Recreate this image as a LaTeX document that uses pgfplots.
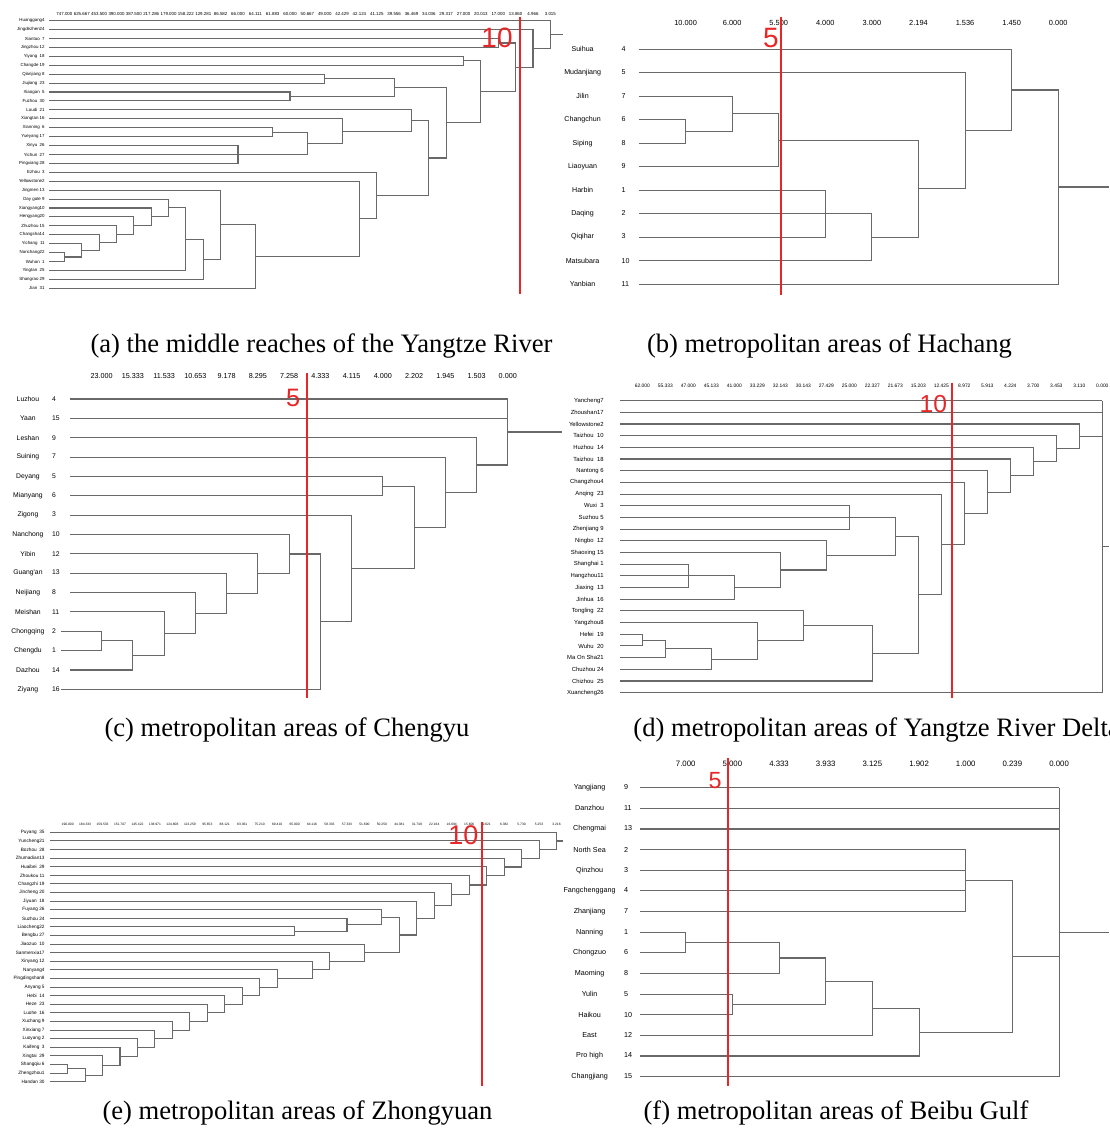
\documentclass[border=0pt]{standalone}
\usepackage{fontspec}
\setmainfont{Liberation Serif}
\newfontfamily\lsans{Liberation Sans}
\usepackage{pgfplots}
\pgfplotsset{compat=1.18}
\definecolor{dg}{RGB}{105,105,105}
\definecolor{rl}{RGB}{232,38,40}
\newcommand\fs[1]{\fontsize{#1}{#1}\selectfont}
\newcommand{\U}[5]{\addplot[dl] coordinates {(#1,#2) (#3,#2) (#3,#4) (#5,#4)};}
\newcommand{\HL}[3]{\addplot[dl] coordinates {(#1,#3) (#2,#3)};}
\newcommand{\VL}[3]{\addplot[dl] coordinates {(#1,#2) (#1,#3)};}
\newcommand\labB[2]{\makebox[39pt][c]{#1}\makebox[6pt][l]{#2}}
\newcommand\labC[2]{\makebox[24.2pt][c]{#1}\makebox[6pt][l]{#2}}
\newcommand\labF[2]{\makebox[34.5pt][c]{#1}\makebox[6pt][l]{#2}}
\pgfplotsset{
 dl/.style={draw=dg, line width=0.55pt, mark=none},
 cut/.style={draw=rl, line width=1pt, mark=none},
 dendro/.style={scale only axis, y dir=reverse, clip=false,
   axis line style={draw=none}, tick style={draw=none}, major tick length=0pt,
   xticklabel pos=upper,
   xticklabel style={anchor=center, inner sep=0pt},
   yticklabel style={anchor=east, inner sep=0pt},
   anchor=north west},
}
\begin{document}
\begin{tikzpicture}
\path[use as bounding box] (0,0) rectangle (554.5pt,565pt);

% ---------------- (a) ----------------
\begin{axis}[dendro, at={(24.5pt,558pt)}, width=257pt, height=140.25pt,
  xmin=-0.89, xmax=28.73, ymin=0.25, ymax=31.7,
  xtick={0,...,28},
  xticklabels={747.000,625.667,453.500,390.000,387.500,217.286,179.000,158.222,129.281,86.582,66.000,64.111,61.883,60.000,50.667,49.000,42.429,42.124,41.125,39.556,36.469,34.036,29.317,27.000,20.013,17.000,13.860,4.966,3.015},
  xticklabel style={font=\lsans\fs{2.2}},
  ytick={1,...,31},
  yticklabels={{Huanggang4},{Jingdezhen24},{Xiantao\ \ 7},{Jingzhou 12},{Yiyang\ \ 18},{Changde 19},{Qianjiang 8},{Jiujiang\ \ 23},{Xiaogan\ \ 5},{Fuzhou\ \ 30},{Loudi\ \ 21},{Xiangtan 16},{Xianning\ \ 6},{Yueyang 17},{Xinyu\ \ 26},{Yichun\ \ 27},{Pingxiang 28},{Ezhou\ \ 3},{Yellowstone2},{Jingmen 13},{Day gate 9},{Xiangyang10},{Hengyang20},{Zhuzhou 15},{Changsha14},{Yichang\ \ 11},{Nanchang22},{Wuhan\ \ 1},{Yingtan\ \ 25},{Shangrao 29},{Jian\ \ 31}},
  yticklabel style={font=\lsans\fs{2.2}, xshift=-2pt}]
\U{-0.89}{27}{0}{28}{-0.89}
\U{-0.89}{26}{1}{27.5}{0}
\U{-0.89}{25}{2}{26.75}{1}
\U{-0.89}{24}{3}{25.875}{2}
\U{-0.89}{23}{4}{24.938}{3}
\U{-0.89}{22}{5}{23.969}{4}
\U{-0.89}{21}{6}{22.984}{5}
\U{6}{21.992}{7}{29}{-0.89}
\U{7}{25.496}{8}{30}{-0.89}
\U{-0.89}{20}{9}{27.748}{8}
\U{9}{23.874}{11}{31}{-0.89}
\U{-0.89}{19}{17}{27.437}{11}
\U{-0.89}{18}{18}{23.219}{17}
\U{-0.89}{15}{10}{17}{-0.89}
\HL{-0.89}{10}{16}
\U{-0.89}{13}{12}{14}{-0.89}
\U{12}{13.5}{14}{16}{10}
\U{-0.89}{12}{16}{14.75}{14}
\U{-0.89}{11}{20}{13.375}{16}
\U{20}{12.188}{21}{20.609}{18}
\U{-0.89}{9}{13}{10}{-0.89}
\U{-0.89}{7}{15}{8}{-0.89}
\U{15}{7.5}{19}{9.5}{13}
\U{19}{8.5}{22}{16.398}{21}
\U{-0.89}{5}{23}{6}{-0.89}
\U{23}{5.5}{24}{12.449}{22}
\U{-0.89}{3}{25}{4}{-0.89}
\U{25}{3.5}{26}{8.975}{24}
\U{-0.89}{2}{27}{6.238}{26}
\U{-0.89}{1}{28}{4.119}{27}
\HL{28}{28.73}{2.559}
\addplot[cut] coordinates {(26.25,0.55) (26.25,31.64)};
\node[text=rl, font=\lsans\fs{14}, inner sep=0pt] at (axis cs:24.93,2.94) {10};
\end{axis}

% ---------------- (b) ----------------
\begin{axis}[dendro, at={(319.5pt,553.5pt)}, width=235pt, height=136.4pt,
  xmin=-1, xmax=9.09, ymin=-0.12, ymax=11.5,
  xtick={0,...,8},
  xticklabels={10.000,6.000,5.500,4.000,3.000,2.194,1.536,1.450,0.000},
  xticklabel style={font=\lsans\fs{3.7}},
  ytick={1,...,11},
  yticklabels={{\labB{Suihua}{4}},{\labB{Mudanjiang}{5}},{\labB{Jilin}{7}},{\labB{Changchun}{6}},{\labB{Siping}{8}},{\labB{Liaoyuan}{9}},{\labB{Harbin}{1}},{\labB{Daqing}{2}},{\labB{Qiqihar}{3}},{\labB{Matsubara}{10}},{\labB{Yanbian}{11}}},
  yticklabel style={font=\lsans\fs{3.55}, xshift=-2.5pt}]
\U{-1}{4}{0}{5}{-1}
\U{-1}{3}{1}{4.5}{0}
\U{1}{3.75}{2}{6}{-1}
\U{-1}{7}{3}{9}{-1}
\HL{-1}{4}{8}
\U{3}{8}{4}{10}{-1}
\U{2}{4.875}{5}{9}{4}
\U{-1}{2}{6}{6.938}{5}
\U{-1}{1}{7}{4.469}{6}
\U{7}{2.734}{8}{11}{-1}
\HL{8}{9.09}{6.867}
\addplot[cut] coordinates {(2.04,-0.39) (2.04,11.47)};
\node[text=rl, font=\lsans\fs{14}, inner sep=0pt] at (axis cs:1.83,0.53) {5};
\end{axis}

% ---------------- (c) ----------------
\begin{axis}[dendro, at={(30.55pt,377pt)}, width=250.5pt, height=161.5pt,
  xmin=-1.3, xmax=14.74, ymin=-0.19, ymax=16.5,
  xtick={0,...,13},
  xticklabels={23.000,15.333,11.533,10.653,9.178,8.295,7.258,4.333,4.115,4.000,2.202,1.945,1.503,0.000},
  xticklabel style={font=\lsans\fs{3.6}},
  ytick={1,...,16},
  yticklabels={{\labC{Luzhou}{4}},{\labC{Yaan}{15}},{\labC{Leshan}{9}},{\labC{Suining}{7}},{\labC{Deyang}{5}},{\labC{Mianyang}{6}},{\labC{Zigong}{3}},{\labC{Nanchong}{10}},{\labC{Yibin}{12}},{\labC{Guang'an}{13}},{\labC{Neijiang}{8}},{\labC{Meishan}{11}},{\labC{Chongqing}{2}},{\labC{Chengdu}{1}},{\labC{Dazhou}{14}},{\labC{Ziyang}{16}}},
  yticklabel style={font=\lsans\fs{3.4}, xshift=1.7pt}]
\U{-1.3}{13}{0}{14}{-1.3}
\U{0}{13.5}{1}{15}{-1}
\U{-1}{12}{2}{14.25}{1}
\U{-1}{11}{3}{13.125}{2}
\U{-1}{10}{4}{12.063}{3}
\U{-1}{9}{5}{11.031}{4}
\U{-1}{8}{6}{10.016}{5}
\U{6}{9.008}{7}{16}{-1.3}
\U{-1}{7}{8}{12.504}{7}
\U{-1}{5}{9}{6}{-1}
\U{9}{5.5}{10}{9.752}{8}
\U{-1}{4}{11}{7.626}{10}
\U{-1}{3}{12}{5.813}{11}
\HL{-1}{13}{1}
\HL{-1}{13}{2}
\HL{12}{13}{4.407}
\VL{13}{1}{4.407}
\HL{13}{14.74}{2.703}
\addplot[cut] coordinates {(6.56,-0.34) (6.56,16.45)};
\node[text=rl, font=\lsans\fs{12.6}, inner sep=0pt] at (axis cs:6.13,0.96) {5};
\end{axis}

% ---------------- (d) ----------------
\begin{axis}[dendro, at={(310pt,372.15pt)}, width=244.5pt, height=156.1pt,
  xmin=-0.97, xmax=20.29, ymin=-0.28, ymax=26.45,
  xtick={0,...,20},
  xticklabels={62.000,55.333,47.000,45.133,41.000,33.229,32.143,30.143,27.429,25.000,22.327,21.673,15.203,12.425,8.972,5.913,4.224,3.700,3.453,3.110,0.000},
  xticklabel style={font=\lsans\fs{2.45}},
  ytick={1,...,26},
  yticklabels={{Yancheng7},{Zhoushan17},{Yellowstone2},{Taizhou\ \ 10},{Huzhou\ \ 14},{Taizhou\ \ 18},{Nantong 6},{Changzhou4},{Anqing\ \ 23},{Wuxi\ \ 3},{Suzhou 5},{Zhenjiang 9},{Ningbo\ \ 12},{Shaoxing 15},{Shanghai 1},{Hangzhou11},{Jiaxing\ \ 13},{Jinhua\ \ 16},{Tongling\ \ 22},{Yangzhou8},{Hefei\ \ 19},{Wuhu\ \ 20},{Ma On Sha21},{Chuzhou 24},{Chizhou\ \ 25},{Xuancheng26}},
  yticklabel style={font=\lsans\fs{2.95}, xshift=-8pt}]
\U{-0.97}{21}{0}{22}{-0.97}
\U{0}{21.5}{1}{23}{-0.97}
\U{-0.97}{15}{2}{17}{-0.97}
\HL{-0.97}{2}{16}
\U{1}{22.25}{3}{24}{-0.97}
\U{2}{16}{4}{18}{-0.97}
\U{-0.97}{20}{5}{23.125}{3}
\U{-0.97}{14}{6}{17}{4}
\U{-0.97}{19}{7}{21.563}{5}
\U{-0.97}{13}{8}{15.5}{6}
\U{-0.97}{10}{9}{12}{-0.97}
\HL{-0.97}{9}{11}
\U{7}{20.281}{10}{25}{-0.97}
\U{9}{11}{11}{14.25}{8}
\U{11}{12.625}{12}{22.641}{10}
\U{-0.97}{9}{13}{17.633}{12}
\U{-0.97}{8}{14}{13.316}{13}
\U{-0.97}{7}{15}{10.658}{14}
\U{-0.97}{6}{16}{8.829}{15}
\U{-0.97}{5}{17}{7.415}{16}
\U{-0.97}{4}{18}{6.207}{17}
\U{-0.97}{3}{19}{5.104}{18}
\HL{-0.97}{20}{1}
\HL{-0.97}{20}{2}
\HL{19}{20}{4.052}
\HL{-0.97}{20}{26}
\VL{20}{1}{26}
\HL{20}{20.29}{13.5}
\addplot[cut] coordinates {(13.48,-0.52) (13.48,26.45)};
\node[text=rl, font=\lsans\fs{12.3}, inner sep=0pt] at (axis cs:12.65,1.28) {10};
\end{axis}

% ---------------- (e) ----------------
\begin{axis}[dendro, at={(25pt,153pt)}, width=255pt, height=131pt,
  xmin=-1.01, xmax=28.2, ymin=0.03, ymax=30.5,
  xtick={0,...,28},
  xticklabels={190.000,184.333,159.533,151.707,145.422,138.971,124.808,113.259,95.653,88.121,83.361,75.210,69.410,65.000,64.116,58.333,57.333,51.690,50.250,44.381,31.749,22.164,16.694,15.606,9.621,6.382,5.730,5.253,3.216},
  xticklabel style={font=\lsans\fs{1.65}},
  ytick={1,...,30},
  yticklabels={{Puyang\ \ 35},{Yuncheng21},{Bozhou\ \ 28},{Zhumadian13},{Huaibei\ \ 29},{Zhoukou 11},{Changzhi 19},{Jincheng 20},{Jiyuan\ \ 18},{Fuyang 26},{Suzhou 24},{Liaocheng22},{Bengbu 27},{Jiaozuo\ \ 10},{Sanmenxia17},{Xinyang 12},{Nanyang4},{Pingdingshan8},{Anyang 5},{Hebi\ \ 14},{Heze\ \ 23},{Luohe\ \ 16},{Xuchang 9},{Xinxiang 7},{Luoyang 2},{Kaifeng\ \ 3},{Xingtai\ \ 29},{Shangqiu 6},{Zhengzhou1},{Handan 30}},
  yticklabel style={font=\lsans\fs{2.35}, xshift=-2.5pt}]
\U{-1.01}{28}{0}{29}{-1.01}
\U{0}{28.5}{1}{30}{-1.01}
\U{-1.01}{27}{2}{29.25}{1}
\U{-1.01}{26}{3}{28.125}{2}
\U{-1.01}{25}{4}{27.063}{3}
\U{-1.01}{24}{5}{26.031}{4}
\U{-1.01}{23}{6}{25.016}{5}
\U{-1.01}{22}{7}{24.008}{6}
\U{-1.01}{21}{8}{23.004}{7}
\U{-1.01}{20}{9}{22.002}{8}
\U{-1.01}{19}{10}{21.001}{9}
\U{-1.01}{18}{11}{20}{10}
\U{-1.01}{17}{12}{19}{11}
\U{-1.01}{12}{13}{13}{-1.01}
\U{-1.01}{16}{14}{18}{12}
\U{-1.01}{15}{15}{17}{14}
\U{-1.01}{11}{16}{12.5}{13}
\U{-1.01}{14}{17}{16}{15}
\U{-1.01}{10}{18}{11.75}{16}
\U{18}{10.875}{19}{15}{17}
\U{-1.01}{9}{20}{12.938}{19}
\U{-1.01}{8}{21}{10.969}{20}
\U{-1.01}{7}{22}{9.484}{21}
\U{-1.01}{6}{23}{8.242}{22}
\U{-1.01}{5}{24}{7.121}{23}
\U{-1.01}{4}{25}{6.061}{24}
\U{-1.01}{3}{26}{5.030}{25}
\U{-1.01}{2}{27}{4.015}{26}
\U{-1.01}{1}{28}{3.008}{27}
\HL{28}{28.37}{2.004}
\addplot[cut] coordinates {(23.75,-0.23) (23.75,30.5)};
\node[text=rl, font=\lsans\fs{13.5}, inner sep=0pt] at (axis cs:22.66,1.3) {10};
\end{axis}

% ---------------- (f) ----------------
\begin{axis}[dendro, at={(320pt,183pt)}, width=234.5pt, height=161.5pt,
  xmin=-0.98, xmax=9.07, ymin=-0.15, ymax=15.5,
  xtick={0,...,8},
  xticklabels={7.000,5.000,4.333,3.933,3.125,1.902,1.000,0.239,0.000},
  xticklabel style={font=\lsans\fs{3.9}},
  ytick={1,...,15},
  yticklabels={{\labF{Yangjiang}{9}},{\labF{Danzhou}{11}},{\labF{Chengmai}{13}},{\labF{North Sea}{2}},{\labF{Qinzhou}{3}},{\labF{Fangchenggang}{4}},{\labF{Zhanjiang}{7}},{\labF{Nanning}{1}},{\labF{Chongzuo}{6}},{\labF{Maoming}{8}},{\labF{Yulin}{5}},{\labF{Haikou}{10}},{\labF{East}{12}},{\labF{Pro high}{14}},{\labF{Changjiang}{15}}},
  yticklabel style={font=\lsans\fs{3.6}, xshift=-1.75pt}]
\U{-0.98}{8}{0}{9}{-0.98}
\U{-0.98}{11}{1}{12}{-0.98}
\U{0}{8.5}{2}{10}{-0.98}
\U{2}{9.25}{3}{11.5}{1}
\U{3}{10.375}{4}{13}{-0.98}
\U{4}{11.688}{5}{14}{-0.98}
\HL{-0.98}{6}{4}
\HL{-0.98}{6}{5}
\HL{-0.98}{6}{6}
\HL{-0.98}{6}{7}
\VL{6}{4}{7}
\U{6}{5.5}{7}{12.844}{5}
\HL{-0.98}{8}{1}
\HL{-0.98}{8}{2}
\HL{-0.98}{8}{3}
\HL{7}{8}{9.172}
\HL{-0.98}{8}{15}
\VL{8}{1}{15}
\HL{8}{9.07}{8}
\addplot[cut] coordinates {(0.91,-0.44) (0.91,15.45)};
\node[text=rl, font=\lsans\fs{11.7}, inner sep=0pt] at (axis cs:0.63,0.63) {5};
\end{axis}

% ---------------- captions ----------------
\node[font=\fs{13.3}] at (160.75pt,392pt) {(a) the middle reaches of the Yangtze River};
\node[font=\fs{13.3}] at (414.75pt,392pt) {(b) metropolitan areas of Hachang};
\node[font=\fs{13.3}] at (143.5pt,200pt) {(c) metropolitan areas of Chengyu};
\node[font=\fs{13.3}, anchor=west, inner sep=0pt] at (316.5pt,200pt) {(d) metropolitan areas of Yangtze River Delta};
\node[font=\fs{13.3}] at (148.75pt,8.5pt) {(e) metropolitan areas of Zhongyuan};
\node[font=\fs{13.3}] at (418pt,8.5pt) {(f) metropolitan areas of Beibu Gulf};
\end{tikzpicture}
\end{document}
